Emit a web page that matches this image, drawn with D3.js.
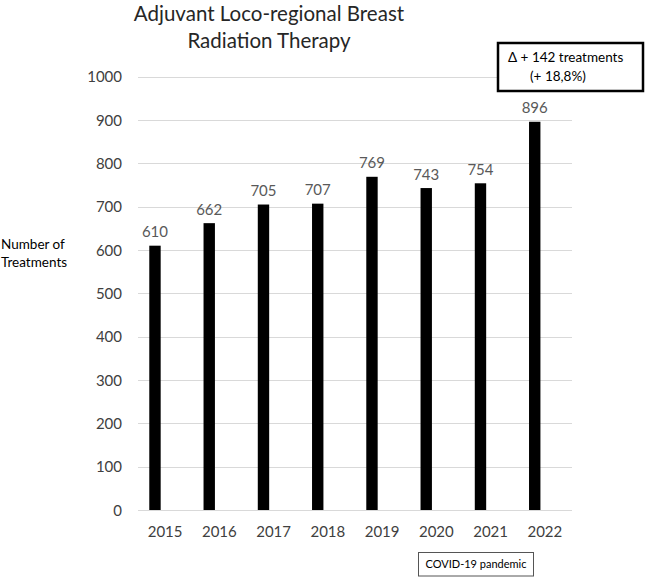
<!DOCTYPE html>
<html>
<head>
<meta charset="utf-8">
<script src="https://cdn.jsdelivr.net/npm/d3@7"></script>
<style>
  html, body { margin: 0; padding: 0; background: #fff; }
  svg { display: block; font-family: Lato, "Open Sans", sans-serif; }
</style>
</head>
<body>
<svg id="chart" width="645" height="577"></svg>
<script>
const years = ["2015", "2016", "2017", "2018", "2019", "2020", "2021", "2022"];
const treatments = [610, 662, 705, 707, 769, 743, 754, 896];
const yTicks = [0, 100, 200, 300, 400, 500, 600, 700, 800, 900, 1000];
const titleLines = ["Adjuvant Loco-regional Breast", "Radiation Therapy"];
const yTitleLines = ["Number of", "Treatments"];
const deltaLines = ["Δ + 142 treatments", "(+ 18,8%)"];
const covidNote = "COVID-19 pandemic";

const svg = d3.select("#chart");
const plot = { left: 138, right: 572, top: 76.7, bottom: 510 };

const x = d3.scaleBand().domain(years).range([plot.left, plot.right]).paddingInner(0).paddingOuter(0);
const y = d3.scaleLinear().domain([0, 1000]).range([plot.bottom, plot.top]);

// gridlines
svg.append("g").selectAll("line").data(yTicks).join("line")
  .attr("x1", plot.left).attr("x2", plot.right)
  .attr("y1", d => Math.round(y(d)) + 0.5).attr("y2", d => Math.round(y(d)) + 0.5)
  .attr("stroke", "#d9d9d9").attr("stroke-width", 1);

// y axis tick labels
const yAxis = d3.axisLeft(y).tickValues(yTicks).tickSize(0).tickPadding(0).tickFormat(d3.format("d"));
const gy = svg.append("g").attr("transform", `translate(122,0)`).call(yAxis);
gy.select(".domain").remove();
gy.selectAll("text").attr("font-size", 15).attr("fill", "#404040")
  .attr("font-family", "Lato, 'Open Sans', sans-serif").attr("dy", "0.35em");

// x axis labels
const xAxis = d3.axisBottom(x).tickSize(0).tickPadding(0);
const gx = svg.append("g").attr("transform", `translate(0,${plot.bottom})`).call(xAxis);
gx.select(".domain").remove();
gx.selectAll("text").attr("font-size", 15).attr("fill", "#404040")
  .attr("font-family", "Lato, 'Open Sans', sans-serif").attr("y", 27).attr("dy", 0);

// bars (occupy left part of category, as in the source)
const bw = x.bandwidth();
const barOffset = bw * 0.208, barWidth = bw * 0.21;
svg.append("g").selectAll("rect").data(treatments).join("rect")
  .attr("x", (d, i) => x(years[i]) + barOffset)
  .attr("width", barWidth)
  .attr("y", d => y(d))
  .attr("height", d => y(0) - y(d))
  .attr("fill", "#000");

// data labels
svg.append("g").selectAll("text").data(treatments).join("text")
  .attr("x", (d, i) => x(years[i]) + barOffset + barWidth / 2)
  .attr("y", d => y(d) - 8.5)
  .attr("text-anchor", "middle")
  .attr("font-size", 15).attr("fill", "#595959")
  .text(d => d);

// title
svg.append("g").selectAll("text").data(titleLines).join("text")
  .attr("x", 269).attr("y", (d, i) => 21 + i * 27)
  .attr("text-anchor", "middle").attr("font-size", 20.5).attr("fill", "#262626")
  .text(d => d);

// y axis title
svg.append("g").selectAll("text").data(yTitleLines).join("text")
  .attr("x", 1).attr("y", (d, i) => 249 + i * 18)
  .attr("font-size", 13.5).attr("fill", "#000")
  .text(d => d);

// delta annotation box
svg.append("rect").attr("x", 498).attr("y", 43).attr("width", 145).attr("height", 48)
  .attr("fill", "#fff").attr("stroke", "#000").attr("stroke-width", 2.5);
svg.append("g").selectAll("text").data(deltaLines).join("text")
  .attr("x", (d, i) => i === 0 ? 508 : 530)
  .attr("y", (d, i) => 62 + i * 19)
  .attr("font-size", 13.5).attr("fill", "#000")
  .text(d => d);

// covid note box
svg.append("rect").attr("x", 418.5).attr("y", 552.5).attr("width", 115).attr("height", 23.5)
  .attr("fill", "#fff").attr("stroke", "#555").attr("stroke-width", 1);
svg.append("text").attr("x", 476).attr("y", 568).attr("text-anchor", "middle")
  .attr("font-size", 11).attr("fill", "#000").text(covidNote);
</script>
</body>
</html>
